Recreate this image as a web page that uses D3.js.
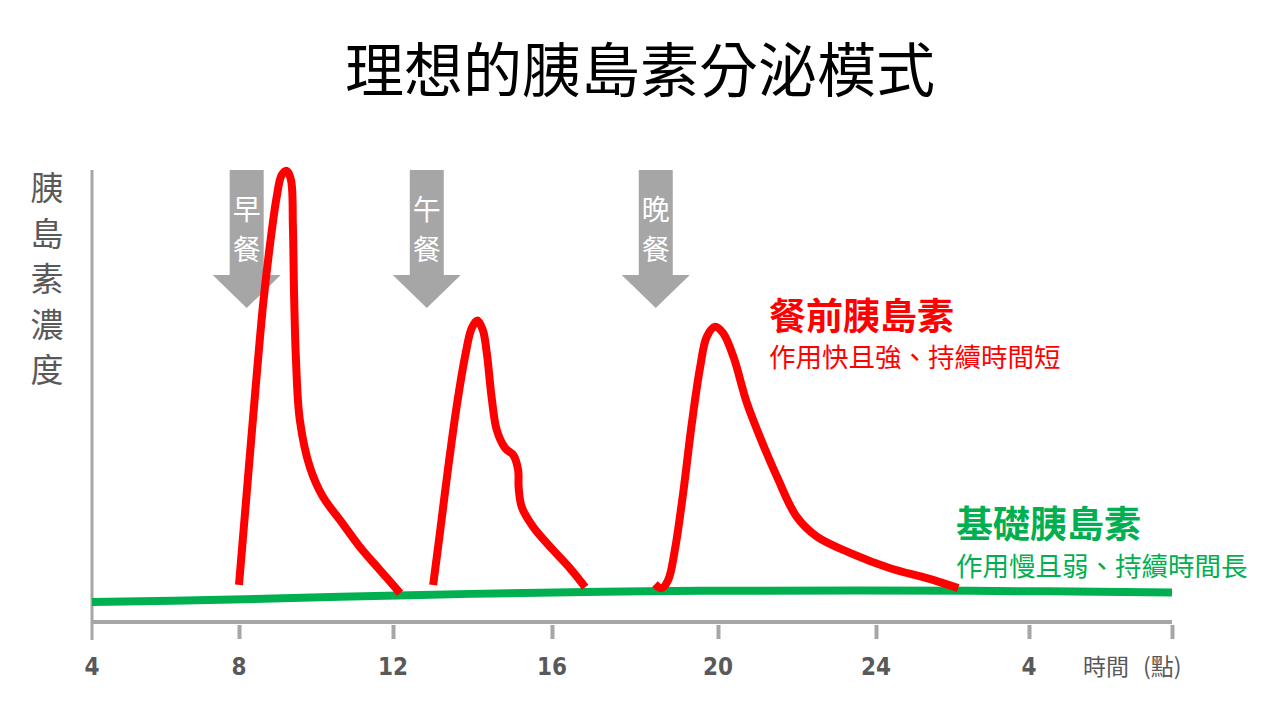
<!DOCTYPE html>
<html>
<head>
<meta charset="utf-8" />
<title>理想的胰島素分泌模式</title>
<script src="https://cdn.jsdelivr.net/npm/d3@7/dist/d3.min.js"></script>
<style>
  html, body { margin: 0; padding: 0; background: #fff; }
  svg { display: block; }
  text { font-family: "Noto Sans CJK TC", "Noto Sans", sans-serif; }
  .tick-label {
    font-family: "Liberation Sans Narrow", "DejaVu Sans Condensed", sans-serif;
    font-weight: bold;
    font-size: 24px;
    fill: #595959;
    text-anchor: middle;
  }
</style>
</head>
<body>
<svg id="chart" width="1280" height="720"></svg>
<script>
// hours on the x axis (28 = 4 o'clock next morning)
const tickHours = [4, 8, 12, 16, 20, 24, 28, 32];
const tickLabels = ["4", "8", "12", "16", "20", "24", "4", ""];

// meals
const mealHours = [8.2, 12.85, 18.5];
const mealNames = ["早餐", "午餐", "晚餐"];

// bolus (mealtime) insulin, one curve per meal: [hour, level]
const bolusBreakfast = [
  [8.00, 8.2], [8.20, 28.5], [8.42, 50.7], [8.63, 70.6], [8.81, 83.8],
  [8.98, 94.1], [9.11, 98.9], [9.24, 99.8], [9.35, 97.8], [9.40, 87.5],
  [9.43, 72.8], [9.48, 58.0], [9.58, 44.7], [9.84, 34.3], [10.18, 27.7],
  [10.62, 22.6], [11.14, 16.6], [11.66, 11.5], [12.18, 6.4]
];
const bolusLunch = [
  [13.01, 8.2], [13.18, 19.7], [13.39, 34.3], [13.60, 47.6], [13.81, 58.6],
  [13.98, 65.0], [14.12, 66.7], [14.26, 64.6], [14.36, 59.5], [14.48, 49.8],
  [14.61, 42.5], [14.82, 38.5], [15.03, 36.9], [15.15, 33.5], [15.16, 29.9],
  [15.24, 25.4], [15.53, 21.0], [16.03, 15.9], [16.43, 11.9], [16.80, 7.7]
];
const bolusDinner = [
  [18.48, 8.4], [18.64, 7.5], [18.80, 9.3], [18.96, 15.9], [19.16, 28.5],
  [19.37, 44.0], [19.57, 56.4], [19.73, 63.1], [19.93, 65.3], [20.13, 63.9],
  [20.39, 58.7], [20.73, 48.5], [21.06, 41.0], [21.49, 32.2], [21.99, 23.3],
  [22.50, 18.9], [23.34, 15.3], [24.37, 11.9], [25.33, 9.7], [26.15, 7.5]
];

// basal insulin
const basal = [
  [4, 4.4], [7.5, 4.9], [12.7, 6.0], [17.2, 6.7], [19.6, 6.9], [26.5, 6.9], [32, 6.5]
];

const svg = d3.select("#chart");

// the source axis is hand-spaced, so the scale follows its tick marks
const x = d3.scaleLinear()
  .domain(tickHours)
  .range([92, 239, 393, 552, 718, 876, 1029, 1172]);
const y = d3.scaleLinear().domain([0, 100]).range([622, 170]);

const gray = "#a6a6a6";
const red = "#ff0000";
const green = "#00b050";

// title
svg.append("text")
  .attr("x", 640).attr("y", 92)
  .attr("text-anchor", "middle")
  .style("font-size", "59px")
  .style("fill", "#000")
  .text("理想的胰島素分泌模式");

// y axis label, stacked vertically
svg.append("text")
  .attr("text-anchor", "middle")
  .style("font-size", "33px")
  .style("fill", "#595959")
  .selectAll("tspan")
  .data("胰島素濃度".split(""))
  .join("tspan")
  .attr("x", 47)
  .attr("y", (d, i) => 200 + i * 45.5)
  .text(d => d);

// axes
svg.append("line")
  .attr("x1", x(4)).attr("x2", x(4))
  .attr("y1", y(100)).attr("y2", 640)
  .attr("stroke", gray).attr("stroke-width", 3);

svg.append("line")
  .attr("x1", x(4)).attr("x2", x(32))
  .attr("y1", y(0)).attr("y2", y(0))
  .attr("stroke", gray).attr("stroke-width", 4);

const xAxis = svg.append("g")
  .attr("transform", "translate(0,625)")
  .call(d3.axisBottom(x).tickValues(tickHours.slice(1)).tickSize(14).tickFormat(""));
xAxis.select(".domain").remove();
xAxis.selectAll(".tick line").attr("stroke", gray).attr("stroke-width", 4);

svg.selectAll("text.tick-label")
  .data(tickHours)
  .join("text")
  .attr("class", "tick-label")
  .attr("x", d => x(d))
  .attr("y", 675)
  .text((d, i) => tickLabels[i]);

const unit = svg.append("text")
  .attr("y", 675)
  .style("font-size", "23px")
  .style("fill", "#595959");
unit.append("tspan").attr("x", 1083).text("時間");
unit.append("tspan").attr("x", 1143).text("(點)");

// meal arrows
const meals = svg.append("g").selectAll("g")
  .data(mealHours)
  .join("g")
  .attr("transform", d => `translate(${x(d)},0)`);

meals.append("path")
  .attr("fill", gray)
  .attr("d", () => {
    const p = d3.path();
    p.moveTo(-17, 170);
    p.lineTo(17, 170);
    p.lineTo(17, 275);
    p.lineTo(34, 275);
    p.lineTo(0, 308);
    p.lineTo(-34, 275);
    p.lineTo(-17, 275);
    p.closePath();
    return p.toString();
  });

meals.append("text")
  .attr("text-anchor", "middle")
  .style("font-size", "28px")
  .style("fill", "#fff")
  .selectAll("tspan")
  .data((d, i) => mealNames[i].split(""))
  .join("tspan")
  .attr("x", 0)
  .attr("y", (d, i) => 220 + i * 40)
  .text(d => d);

// curves
const line = d3.line()
  .x(d => x(d[0]))
  .y(d => y(d[1]))
  .curve(d3.curveCatmullRom.alpha(0.5));

svg.append("path")
  .datum(basal)
  .attr("d", line)
  .attr("fill", "none")
  .attr("stroke", green)
  .attr("stroke-width", 8);

svg.selectAll("path.bolus")
  .data([bolusBreakfast, bolusLunch, bolusDinner])
  .join("path")
  .attr("class", "bolus")
  .attr("d", line)
  .attr("fill", "none")
  .attr("stroke", red)
  .attr("stroke-width", 8)
  .attr("stroke-linejoin", "round");

// annotations
svg.append("text")
  .attr("x", 769).attr("y", 330)
  .style("font-size", "37px").style("font-weight", "bold").style("fill", red)
  .text("餐前胰島素");
svg.append("text")
  .attr("x", 769).attr("y", 367)
  .style("font-size", "26.5px").style("fill", red)
  .text("作用快且強、持續時間短");

svg.append("text")
  .attr("x", 956).attr("y", 538)
  .style("font-size", "37px").style("font-weight", "bold").style("fill", green)
  .text("基礎胰島素");
svg.append("text")
  .attr("x", 956).attr("y", 576)
  .style("font-size", "26.5px").style("fill", green)
  .text("作用慢且弱、持續時間長");
</script>
</body>
</html>
